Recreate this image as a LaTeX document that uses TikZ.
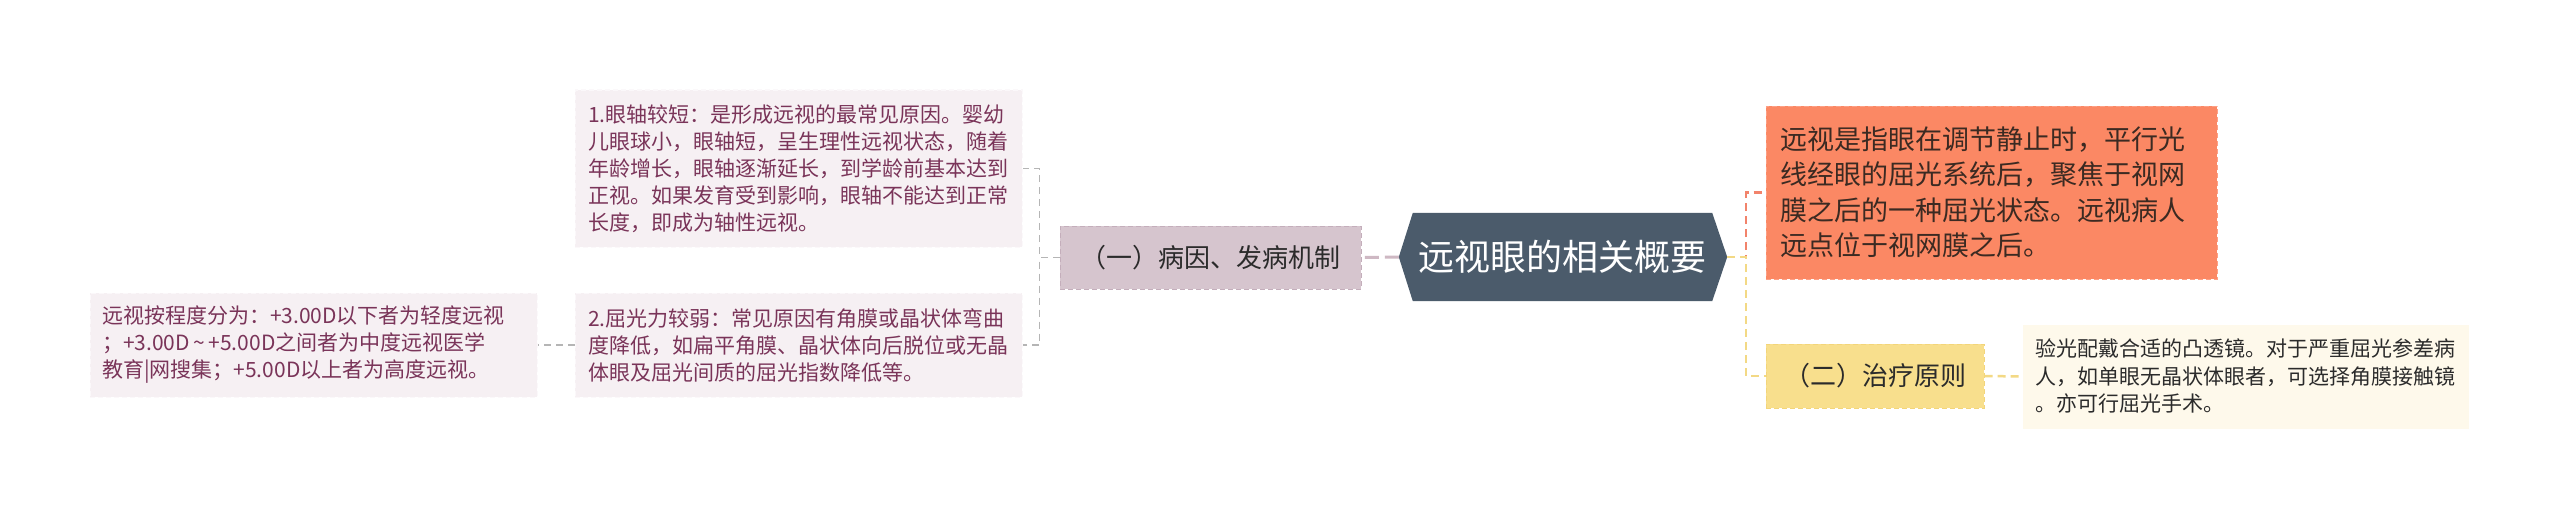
\documentclass[tikz,border=0pt]{standalone}
\usepackage{fontspec}
\newfontfamily\cjk{Noto Sans CJK SC}
\usetikzlibrary{backgrounds,calc}
\definecolor{rootfill}{HTML}{4B5B6B}
\definecolor{yifill}{HTML}{D6C5CE}
\definecolor{yiborder}{HTML}{C4AEBB}
\definecolor{leafbg}{HTML}{F6F0F3}
\definecolor{leafborder}{HTML}{FBF8FA}
\definecolor{leaftext}{HTML}{7A3459}
\definecolor{orangefill}{HTML}{FB8864}
\definecolor{orangeborder}{HTML}{FDA085}
\definecolor{orangetext}{HTML}{3B2A22}
\definecolor{yellowfill}{HTML}{F8DF8D}
\definecolor{yellowborder}{HTML}{F3D57A}
\definecolor{creambg}{HTML}{FEF9EB}
\definecolor{darktext}{HTML}{2B2B2B}
\definecolor{grayline}{HTML}{B5B5B5}
\definecolor{mauveline}{HTML}{CEB8C3}
\definecolor{orangeline}{HTML}{F2836B}
\definecolor{yellowline}{HTML}{F3D985}
\begin{document}
\begin{tikzpicture}[x=1pt,y=-1pt,
  rootstyle/.style={text=white, font=\cjk\fontsize{36pt}{44pt}\selectfont, inner sep=0pt, anchor=center},
  yistyle/.style={fill=yifill, draw=yiborder, dash pattern=on 5pt off 3pt, line width=1pt, text=darktext, font=\cjk\fontsize{26pt}{32pt}\selectfont, inner sep=0pt, anchor=center},
  leafbox/.style={fill=leafbg, draw=leafborder, dash pattern=on 5pt off 3pt, line width=1pt, text=leaftext, font=\cjk\fontsize{21pt}{27pt}\selectfont, align=left, inner ysep=0pt, anchor=center},
  orangebox/.style={fill=orangefill, draw=orangeborder, dash pattern=on 5pt off 3pt, line width=1pt, text=orangetext, font=\cjk\fontsize{27pt}{35.5pt}\selectfont, align=left, inner ysep=0pt, anchor=center},
  yellowbox/.style={fill=yellowfill, draw=yellowborder, dash pattern=on 5pt off 3pt, line width=1pt, text=darktext, font=\cjk\fontsize{26pt}{32pt}\selectfont, inner sep=0pt, anchor=center},
  creambox/.style={fill=creambg, draw=creambg, line width=1pt, text=darktext, font=\cjk\fontsize{21pt}{27.5pt}\selectfont, align=left, inner ysep=0pt, anchor=center},
  graylink/.style={draw=grayline, line width=1.5pt, dash pattern=on 7pt off 5pt},
  mauvelink/.style={draw=mauveline, line width=3pt, dash pattern=on 14pt off 6pt},
  orangelink/.style={draw=orangeline, line width=2.5pt, dash pattern=on 8pt off 5pt},
  yellowlink/.style={draw=yellowline, line width=2.5pt, dash pattern=on 8pt off 5pt}
]
\useasboundingbox (0,0) rectangle (2560,519);

% root
\node[rootstyle, minimum width=299pt, minimum height=88pt] (root) at (1562.5,257) {远视眼的相关概要};
\coordinate (rootL) at ($(root.west)+(-14,0)$);
\coordinate (rootR) at ($(root.east)+(15,0)$);
\begin{scope}[on background layer]
\fill[white] (0,0) rectangle (2560,519);
\fill[rootfill] (root.north west) -- (root.north east) -- (rootR) -- (root.south east) -- (root.south west) -- (rootL) -- cycle;
\end{scope}

% left branch
\node[yistyle, minimum width=301pt, minimum height=63pt] (yi) at (1210.5,257.5) {（一）病因、发病机制};
\node[leafbox, text width=421pt, inner xsep=13pt, minimum height=157pt] (l1) at (798.5,168.5) {1.眼轴较短：是形成远视的最常见原因。婴幼\\儿眼球小，眼轴短，呈生理性远视状态，随着\\年龄增长，眼轴逐渐延长，到学龄前基本达到\\正视。如果发育受到影响，眼轴不能达到正常\\长度，即成为轴性远视。};
\node[leafbox, text width=421pt, inner xsep=13pt, minimum height=104pt] (l2) at (798.5,345) {2.屈光力较弱：常见原因有角膜或晶状体弯曲\\度降低，如扁平角膜、晶状体向后脱位或无晶\\体眼及屈光间质的屈光指数降低等。};
\node[leafbox, text width=423pt, inner xsep=12pt, minimum height=104pt] (l3) at (313.5,345) {远视按程度分为：+3.00D以下者为轻度远视\\；+3.00D\,\char"007E\,+5.00D之间者为中度远视医学\\教育|网搜集；+5.00D以上者为高度远视。};

% right branch
\node[orangebox, text width=423pt, inner xsep=14pt, minimum height=173pt] (or) at (1991.5,192.5) {远视是指眼在调节静止时，平行光\\线经眼的屈光系统后，聚焦于视网\\膜之后的一种屈光状态。远视病人\\远点位于视网膜之后。};
\node[yellowbox, minimum width=218pt, minimum height=64pt] (er) at (1875,376) {（二）治疗原则};
\node[creambox, text width=421pt, inner xsep=12pt, minimum height=103pt] (cr) at (2245.5,376.5) {验光配戴合适的凸透镜。对于严重屈光参差病\\人，如单眼无晶状体眼者，可选择角膜接触镜\\。亦可行屈光手术。};

% connectors
\draw[mauvelink] (rootL) -- (yi.east);
\draw[graylink] (yi.west) -- ++(-20,0) |- (l1.east);
\draw[graylink] (yi.west) -- ++(-20,0) |- (l2.east);
\draw[graylink] (l2.west) -- (l3.east);
\draw[orangelink] (rootR) -- ++(19,0) |- (or.west);
\draw[yellowlink] (rootR) -- ++(19,0) |- (er.west);
\draw[yellowlink] (er.east) -- (cr.west);
\end{tikzpicture}
\end{document}
